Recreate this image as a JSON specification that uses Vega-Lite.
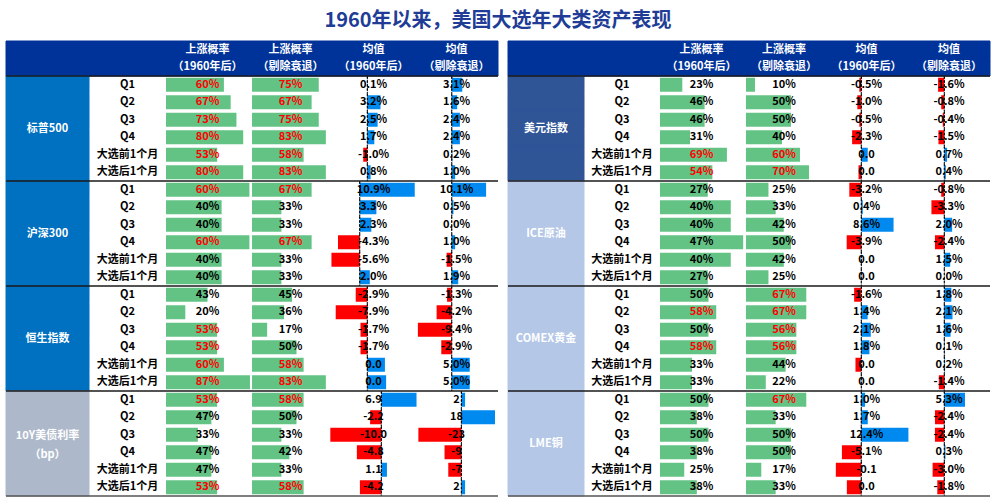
{
"$schema": "https://vega.github.io/schema/vega-lite/v6.json",
"padding": {"left": 5, "right": 5, "top": 10, "bottom": 0},
"title": {"text": "1960年以来，美国大选年大类资产表现", "fontSize": 20, "fontWeight": "bold", "color": "#203C96", "anchor": "middle", "offset": 10, "font": "Noto Sans CJK SC"},
"resolve": {"scale": {"color": "independent", "stroke": "independent"}},
"datasets": {
"L": [
{"i":0,"k":"spx","g":"标普500","r":"Q1","p1":0.60,"p2":0.75,"m1":0.1,"m2":3.1,"t3":"0.1%","t4":"3.1%"},
{"i":1,"k":"spx","g":"标普500","r":"Q2","p1":0.67,"p2":0.67,"m1":3.2,"m2":1.6,"t3":"3.2%","t4":"1.6%"},
{"i":2,"k":"spx","g":"标普500","r":"Q3","p1":0.73,"p2":0.75,"m1":2.5,"m2":2.4,"t3":"2.5%","t4":"2.4%"},
{"i":3,"k":"spx","g":"标普500","r":"Q4","p1":0.80,"p2":0.83,"m1":1.7,"m2":2.4,"t3":"1.7%","t4":"2.4%"},
{"i":4,"k":"spx","g":"标普500","r":"大选前1个月","p1":0.53,"p2":0.58,"m1":-1.0,"m2":0.2,"t3":"-1.0%","t4":"0.2%"},
{"i":5,"k":"spx","g":"标普500","r":"大选后1个月","p1":0.80,"p2":0.83,"m1":0.8,"m2":1.0,"t3":"0.8%","t4":"1.0%"},
{"i":6,"k":"csi","g":"沪深300","r":"Q1","p1":0.60,"p2":0.67,"m1":10.9,"m2":10.1,"t3":"10.9%","t4":"10.1%"},
{"i":7,"k":"csi","g":"沪深300","r":"Q2","p1":0.40,"p2":0.33,"m1":3.3,"m2":0.5,"t3":"3.3%","t4":"0.5%"},
{"i":8,"k":"csi","g":"沪深300","r":"Q3","p1":0.40,"p2":0.33,"m1":2.3,"m2":0.0,"t3":"2.3%","t4":"0.0%"},
{"i":9,"k":"csi","g":"沪深300","r":"Q4","p1":0.60,"p2":0.67,"m1":-4.3,"m2":1.0,"t3":"-4.3%","t4":"1.0%"},
{"i":10,"k":"csi","g":"沪深300","r":"大选前1个月","p1":0.40,"p2":0.33,"m1":-5.6,"m2":-1.5,"t3":"-5.6%","t4":"-1.5%"},
{"i":11,"k":"csi","g":"沪深300","r":"大选后1个月","p1":0.40,"p2":0.33,"m1":2.0,"m2":1.9,"t3":"2.0%","t4":"1.9%"},
{"i":12,"k":"hsi","g":"恒生指数","r":"Q1","p1":0.43,"p2":0.45,"m1":-2.9,"m2":-1.3,"t3":"-2.9%","t4":"-1.3%"},
{"i":13,"k":"hsi","g":"恒生指数","r":"Q2","p1":0.20,"p2":0.36,"m1":-7.9,"m2":-4.2,"t3":"-7.9%","t4":"-4.2%"},
{"i":14,"k":"hsi","g":"恒生指数","r":"Q3","p1":0.53,"p2":0.17,"m1":-1.7,"m2":-9.4,"t3":"-1.7%","t4":"-9.4%"},
{"i":15,"k":"hsi","g":"恒生指数","r":"Q4","p1":0.53,"p2":0.50,"m1":-1.7,"m2":-2.9,"t3":"-1.7%","t4":"-2.9%"},
{"i":16,"k":"hsi","g":"恒生指数","r":"大选前1个月","p1":0.60,"p2":0.58,"m1":4.4,"m2":5.0,"t3":"0.0","t4":"5.0%"},
{"i":17,"k":"hsi","g":"恒生指数","r":"大选后1个月","p1":0.87,"p2":0.83,"m1":4.7,"m2":5.0,"t3":"0.0","t4":"5.0%"},
{"i":18,"k":"ust","g":"10Y美债利率\n（bp）","r":"Q1","p1":0.53,"p2":0.58,"m1":6.9,"m2":2,"t3":"6.9","t4":"2"},
{"i":19,"k":"ust","g":"10Y美债利率\n（bp）","r":"Q2","p1":0.47,"p2":0.50,"m1":-2.2,"m2":18,"t3":"-2.2","t4":"18"},
{"i":20,"k":"ust","g":"10Y美债利率\n（bp）","r":"Q3","p1":0.33,"p2":0.33,"m1":-10.0,"m2":-23,"t3":"-10.0","t4":"-23"},
{"i":21,"k":"ust","g":"10Y美债利率\n（bp）","r":"Q4","p1":0.47,"p2":0.42,"m1":-4.8,"m2":-9,"t3":"-4.8","t4":"-9"},
{"i":22,"k":"ust","g":"10Y美债利率\n（bp）","r":"大选前1个月","p1":0.47,"p2":0.33,"m1":1.1,"m2":-7,"t3":"1.1","t4":"-7"},
{"i":23,"k":"ust","g":"10Y美债利率\n（bp）","r":"大选后1个月","p1":0.53,"p2":0.58,"m1":-4.2,"m2":2,"t3":"-4.2","t4":"2"}
],
"R": [
{"i":0,"k":"dxy","g":"美元指数","r":"Q1","p1":0.23,"p2":0.10,"m1":-0.5,"m2":-1.6,"t3":"-0.5%","t4":"-1.6%"},
{"i":1,"k":"dxy","g":"美元指数","r":"Q2","p1":0.46,"p2":0.50,"m1":-1.0,"m2":-0.8,"t3":"-1.0%","t4":"-0.8%"},
{"i":2,"k":"dxy","g":"美元指数","r":"Q3","p1":0.46,"p2":0.50,"m1":-0.5,"m2":-0.4,"t3":"-0.5%","t4":"-0.4%"},
{"i":3,"k":"dxy","g":"美元指数","r":"Q4","p1":0.31,"p2":0.40,"m1":-2.3,"m2":-1.5,"t3":"-2.3%","t4":"-1.5%"},
{"i":4,"k":"dxy","g":"美元指数","r":"大选前1个月","p1":0.69,"p2":0.60,"m1":1.6,"m2":0.7,"t3":"0.0","t4":"0.7%"},
{"i":5,"k":"dxy","g":"美元指数","r":"大选后1个月","p1":0.54,"p2":0.70,"m1":-0.7,"m2":0.4,"t3":"0.0","t4":"0.4%"},
{"i":6,"k":"oil","g":"ICE原油","r":"Q1","p1":0.27,"p2":0.25,"m1":-3.2,"m2":-0.8,"t3":"-3.2%","t4":"-0.8%"},
{"i":7,"k":"oil","g":"ICE原油","r":"Q2","p1":0.40,"p2":0.33,"m1":0.4,"m2":-3.3,"t3":"0.4%","t4":"-3.3%"},
{"i":8,"k":"oil","g":"ICE原油","r":"Q3","p1":0.40,"p2":0.42,"m1":8.6,"m2":2.0,"t3":"8.6%","t4":"2.0%"},
{"i":9,"k":"oil","g":"ICE原油","r":"Q4","p1":0.47,"p2":0.50,"m1":-3.9,"m2":-2.4,"t3":"-3.9%","t4":"-2.4%"},
{"i":10,"k":"oil","g":"ICE原油","r":"大选前1个月","p1":0.40,"p2":0.42,"m1":0.1,"m2":1.5,"t3":"0.0","t4":"1.5%"},
{"i":11,"k":"oil","g":"ICE原油","r":"大选后1个月","p1":0.27,"p2":0.25,"m1":0.0,"m2":0.0,"t3":"0.0","t4":"0.0%"},
{"i":12,"k":"gold","g":"COMEX黄金","r":"Q1","p1":0.50,"p2":0.67,"m1":-1.6,"m2":1.8,"t3":"-1.6%","t4":"1.8%"},
{"i":13,"k":"gold","g":"COMEX黄金","r":"Q2","p1":0.58,"p2":0.67,"m1":1.4,"m2":2.1,"t3":"1.4%","t4":"2.1%"},
{"i":14,"k":"gold","g":"COMEX黄金","r":"Q3","p1":0.50,"p2":0.56,"m1":2.1,"m2":1.6,"t3":"2.1%","t4":"1.6%"},
{"i":15,"k":"gold","g":"COMEX黄金","r":"Q4","p1":0.58,"p2":0.56,"m1":1.8,"m2":0.1,"t3":"1.8%","t4":"0.1%"},
{"i":16,"k":"gold","g":"COMEX黄金","r":"大选前1个月","p1":0.33,"p2":0.44,"m1":-1.3,"m2":0.2,"t3":"0.0","t4":"0.2%"},
{"i":17,"k":"gold","g":"COMEX黄金","r":"大选后1个月","p1":0.33,"p2":0.22,"m1":0.0,"m2":-1.4,"t3":"0.0","t4":"-1.4%"},
{"i":18,"k":"cu","g":"LME铜","r":"Q1","p1":0.50,"p2":0.67,"m1":1.0,"m2":5.3,"t3":"1.0%","t4":"5.3%"},
{"i":19,"k":"cu","g":"LME铜","r":"Q2","p1":0.38,"p2":0.33,"m1":1.7,"m2":-2.4,"t3":"1.7%","t4":"-2.4%"},
{"i":20,"k":"cu","g":"LME铜","r":"Q3","p1":0.50,"p2":0.50,"m1":12.4,"m2":-2.4,"t3":"12.4%","t4":"-2.4%"},
{"i":21,"k":"cu","g":"LME铜","r":"Q4","p1":0.38,"p2":0.50,"m1":-5.1,"m2":0.3,"t3":"-5.1%","t4":"0.3%"},
{"i":22,"k":"cu","g":"LME铜","r":"大选前1个月","p1":0.25,"p2":0.17,"m1":-6.7,"m2":-3.0,"t3":"-0.1","t4":"-3.0%"},
{"i":23,"k":"cu","g":"LME铜","r":"大选后1个月","p1":0.38,"p2":0.33,"m1":-3.8,"m2":-1.8,"t3":"0.0","t4":"-1.8%"}
]
},
"spacing": 0,
"bounds": "flush",
"hconcat": [
{"width": 83, "height": 455,
 "encoding": {"y": {"field": "i", "type": "ordinal", "scale": {"type": "band", "domain": [-2,-1,0,1,2,3,4,5,6,7,8,9,10,11,12,13,14,15,16,17,18,19,20,21,22,23], "paddingInner": 0, "paddingOuter": 0}, "axis": null}},
 "layer": [
  {"data": {"values": [{"i": -2}, {"i": -1}]}, "mark": {"type": "rect", "color": "#003399", "stroke": "#003399", "strokeWidth": 1}},
  {"data": {"name": "L"}, "mark": {"type": "rect", "strokeWidth": 1},
   "encoding": {"color": {"field": "k", "type": "nominal", "scale": {"domain": ["spx","csi","hsi","ust"], "range": ["#0070C0","#0070C0","#0070C0","#ADB9CA"]}, "legend": null},
                "stroke": {"field": "k", "type": "nominal", "scale": {"domain": ["spx","csi","hsi","ust"], "range": ["#0070C0","#0070C0","#0070C0","#ADB9CA"]}, "legend": null}}},
  {"data": {"name": "L"}, "transform": [{"filter": "datum.r == 'Q3' && datum.k != 'ust'"}], "mark": {"type": "text", "color": "#FFFFFF", "fontSize": 11},
   "encoding": {"y": {"field": "i", "type": "ordinal", "bandPosition": 1}, "text": {"field": "g"}}},
  {"data": {"name": "L"}, "transform": [{"filter": "datum.r == 'Q3' && datum.k == 'ust'"}], "mark": {"type": "text", "color": "#FFFFFF", "fontSize": 11, "lineBreak": "\n", "lineHeight": 19, "dy": -8},
   "encoding": {"y": {"field": "i", "type": "ordinal", "bandPosition": 1}, "text": {"field": "g"}}},
  {"data": {"values": [{"i": 0}, {"i": 6}, {"i": 12}, {"i": 18}]}, "mark": {"type": "rule", "color": "#1a1a1a", "strokeWidth": 1.5}, "encoding": {"y": {"field": "i", "type": "ordinal", "bandPosition": 0}}},
  {"data": {"values": [{"i": 23}]}, "mark": {"type": "rule", "color": "#555555", "strokeWidth": 1.5}, "encoding": {"y": {"field": "i", "type": "ordinal", "bandPosition": 1}}}
 ]},
{"width": 77, "height": 455,
 "encoding": {"y": {"field": "i", "type": "ordinal", "scale": {"type": "band", "domain": [-2,-1,0,1,2,3,4,5,6,7,8,9,10,11,12,13,14,15,16,17,18,19,20,21,22,23], "paddingInner": 0, "paddingOuter": 0}, "axis": null}},
 "layer": [
  {"data": {"values": [{"i": -2}, {"i": -1}]}, "mark": {"type": "rect", "color": "#003399", "stroke": "#003399", "strokeWidth": 1}},
  {"data": {"name": "L"}, "mark": {"type": "text", "color": "#000000"}, "encoding": {"text": {"field": "r"}}},
  {"data": {"values": [{"i": 0}, {"i": 6}, {"i": 12}, {"i": 18}]}, "mark": {"type": "rule", "color": "#1a1a1a", "strokeWidth": 1.5}, "encoding": {"y": {"field": "i", "type": "ordinal", "bandPosition": 0}}},
  {"data": {"values": [{"i": 23}]}, "mark": {"type": "rule", "color": "#555555", "strokeWidth": 1.5}, "encoding": {"y": {"field": "i", "type": "ordinal", "bandPosition": 1}}}
 ]},
{"width": 83, "height": 455, "resolve": {"scale": {"x": "independent"}},
 "encoding": {"y": {"field": "i", "type": "ordinal", "scale": {"type": "band", "domain": [-2,-1,0,1,2,3,4,5,6,7,8,9,10,11,12,13,14,15,16,17,18,19,20,21,22,23], "paddingInner": 0, "paddingOuter": 0}, "axis": null}},
 "layer": [
  {"data": {"values": [{"i": -2, "h": "上涨概率"}, {"i": -1, "h": "（1960年后）"}]}, "layer": [
    {"mark": {"type": "rect", "color": "#003399", "stroke": "#003399", "strokeWidth": 1}},
    {"mark": {"type": "text", "color": "#FFFFFF"}, "encoding": {"text": {"field": "h"}}}]},
  {"data": {"name": "L"}, "transform": [{"filter": "datum.k != 'csi'"}], "mark": {"type": "bar", "height": {"band": 0.8}, "color": "#63C384"},
   "encoding": {"x": {"field": "p1", "type": "quantitative", "scale": {"domain": [0, 0.86], "nice": false}, "axis": null}}},
  {"data": {"name": "L"}, "transform": [{"filter": "datum.k == 'csi'"}], "mark": {"type": "bar", "height": {"band": 0.8}, "color": "#63C384"},
   "encoding": {"x": {"field": "p1", "type": "quantitative", "scale": {"domain": [0, 0.597], "nice": false}, "axis": null}}},
  {"data": {"name": "L"}, "mark": {"type": "text"}, "encoding": {"text": {"field": "p1", "type": "quantitative", "format": ".0%"}, "color": {"condition": {"test": "datum.p1 > 0.5", "value": "#FF0000"}, "value": "#000000"}}},
  {"data": {"values": [{"i": 0}, {"i": 6}, {"i": 12}, {"i": 18}]}, "mark": {"type": "rule", "color": "#1a1a1a", "strokeWidth": 1.5}, "encoding": {"y": {"field": "i", "type": "ordinal", "bandPosition": 0}}},
  {"data": {"values": [{"i": 23}]}, "mark": {"type": "rule", "color": "#555555", "strokeWidth": 1.5}, "encoding": {"y": {"field": "i", "type": "ordinal", "bandPosition": 1}}}
 ]},
{"width": 83, "height": 455, "resolve": {"scale": {"x": "independent"}},
 "encoding": {"y": {"field": "i", "type": "ordinal", "scale": {"type": "band", "domain": [-2,-1,0,1,2,3,4,5,6,7,8,9,10,11,12,13,14,15,16,17,18,19,20,21,22,23], "paddingInner": 0, "paddingOuter": 0}, "axis": null}},
 "layer": [
  {"data": {"values": [{"i": -2, "h": "上涨概率"}, {"i": -1, "h": "（剔除衰退）"}]}, "layer": [
    {"mark": {"type": "rect", "color": "#003399", "stroke": "#003399", "strokeWidth": 1}},
    {"mark": {"type": "text", "color": "#FFFFFF"}, "encoding": {"text": {"field": "h"}}}]},
  {"data": {"name": "L"}, "mark": {"type": "bar", "height": {"band": 0.8}, "color": "#63C384"},
   "encoding": {"x": {"field": "p2", "type": "quantitative", "scale": {"domain": [-0.034, 0.899], "nice": false}, "axis": null}}},
  {"data": {"name": "L"}, "mark": {"type": "text"}, "encoding": {"text": {"field": "p2", "type": "quantitative", "format": ".0%"}, "color": {"condition": {"test": "datum.p2 > 0.5", "value": "#FF0000"}, "value": "#000000"}}},
  {"data": {"values": [{"i": 0}, {"i": 6}, {"i": 12}, {"i": 18}]}, "mark": {"type": "rule", "color": "#1a1a1a", "strokeWidth": 1.5}, "encoding": {"y": {"field": "i", "type": "ordinal", "bandPosition": 0}}},
  {"data": {"values": [{"i": 23}]}, "mark": {"type": "rule", "color": "#555555", "strokeWidth": 1.5}, "encoding": {"y": {"field": "i", "type": "ordinal", "bandPosition": 1}}}
 ]},
{"width": 83, "height": 455, "resolve": {"scale": {"x": "independent"}},
 "encoding": {"y": {"field": "i", "type": "ordinal", "scale": {"type": "band", "domain": [-2,-1,0,1,2,3,4,5,6,7,8,9,10,11,12,13,14,15,16,17,18,19,20,21,22,23], "paddingInner": 0, "paddingOuter": 0}, "axis": null}},
 "layer": [
  {"data": {"values": [{"i": -2, "h": "均值"}, {"i": -1, "h": "（1960年后）"}]}, "layer": [
    {"mark": {"type": "rect", "color": "#003399", "stroke": "#003399", "strokeWidth": 1}},
    {"mark": {"type": "text", "color": "#FFFFFF"}, "encoding": {"text": {"field": "h"}}}]},
  {"data": {"name": "L"}, "transform": [{"filter": "datum.k == 'spx'"}], "layer": [
    {"mark": {"type": "bar", "height": {"band": 0.8}}, "encoding": {"x": {"field": "m1", "type": "quantitative", "scale": {"domain": [-8.6, 11.6], "nice": false}, "axis": null}, "color": {"condition": {"test": "datum.m1 < 0", "value": "#FF0000"}, "value": "#008AEF"}}},
    {"mark": {"type": "text", "color": "#000000"}, "encoding": {"text": {"field": "t3"}}},
    {"mark": {"type": "bar", "fillOpacity": 0, "stroke": "#000000", "strokeDash": [2, 2], "strokeWidth": 1}, "encoding": {"x": {"datum": 0, "type": "quantitative"}, "x2": {"datum": 0}}}]},
  {"data": {"name": "L"}, "transform": [{"filter": "datum.k == 'csi'"}], "layer": [
    {"mark": {"type": "bar", "height": {"band": 0.8}}, "encoding": {"x": {"field": "m1", "type": "quantitative", "scale": {"domain": [-5.49, 10.95], "nice": false}, "axis": null}, "color": {"condition": {"test": "datum.m1 < 0", "value": "#FF0000"}, "value": "#008AEF"}}},
    {"mark": {"type": "text", "color": "#000000"}, "encoding": {"text": {"field": "t3"}}},
    {"mark": {"type": "bar", "fillOpacity": 0, "stroke": "#000000", "strokeDash": [2, 2], "strokeWidth": 1}, "encoding": {"x": {"datum": 0, "type": "quantitative"}, "x2": {"datum": 0}}}]},
  {"data": {"name": "L"}, "transform": [{"filter": "datum.k == 'hsi'"}], "layer": [
    {"mark": {"type": "bar", "height": {"band": 0.8}}, "encoding": {"x": {"field": "m1", "type": "quantitative", "scale": {"domain": [-8.83, 11.92], "nice": false}, "axis": null}, "color": {"condition": {"test": "datum.m1 < 0", "value": "#FF0000"}, "value": "#008AEF"}}},
    {"mark": {"type": "text", "color": "#000000"}, "encoding": {"text": {"field": "t3"}}},
    {"mark": {"type": "bar", "fillOpacity": 0, "stroke": "#000000", "strokeDash": [2, 2], "strokeWidth": 1}, "encoding": {"x": {"datum": 0, "type": "quantitative"}, "x2": {"datum": 0}}}]},
  {"data": {"name": "L"}, "transform": [{"filter": "datum.k == 'ust'"}], "layer": [
    {"mark": {"type": "bar", "height": {"band": 0.8}}, "encoding": {"x": {"field": "m1", "type": "quantitative", "scale": {"domain": [-9.67, 6.6], "nice": false}, "axis": null}, "color": {"condition": {"test": "datum.m1 < 0", "value": "#FF0000"}, "value": "#008AEF"}}},
    {"mark": {"type": "text", "color": "#000000"}, "encoding": {"text": {"field": "t3"}}},
    {"mark": {"type": "bar", "fillOpacity": 0, "stroke": "#000000", "strokeDash": [2, 2], "strokeWidth": 1}, "encoding": {"x": {"datum": 0, "type": "quantitative"}, "x2": {"datum": 0}}}]},
  {"data": {"values": [{"i": 0}, {"i": 6}, {"i": 12}, {"i": 18}]}, "mark": {"type": "rule", "color": "#1a1a1a", "strokeWidth": 1.5}, "encoding": {"y": {"field": "i", "type": "ordinal", "bandPosition": 0}}},
  {"data": {"values": [{"i": 23}]}, "mark": {"type": "rule", "color": "#555555", "strokeWidth": 1.5}, "encoding": {"y": {"field": "i", "type": "ordinal", "bandPosition": 1}}}
 ]},
{"width": 83, "height": 455, "resolve": {"scale": {"x": "independent"}},
 "encoding": {"y": {"field": "i", "type": "ordinal", "scale": {"type": "band", "domain": [-2,-1,0,1,2,3,4,5,6,7,8,9,10,11,12,13,14,15,16,17,18,19,20,21,22,23], "paddingInner": 0, "paddingOuter": 0}, "axis": null}},
 "layer": [
  {"data": {"values": [{"i": -2, "h": "均值"}, {"i": -1, "h": "（剔除衰退）"}]}, "layer": [
    {"mark": {"type": "rect", "color": "#003399", "stroke": "#003399", "strokeWidth": 1}},
    {"mark": {"type": "text", "color": "#FFFFFF"}, "encoding": {"text": {"field": "h"}}}]},
  {"data": {"name": "L"}, "transform": [{"filter": "datum.k == 'spx' || datum.k == 'csi'"}], "layer": [
    {"mark": {"type": "bar", "height": {"band": 0.8}}, "encoding": {"x": {"field": "m2", "type": "quantitative", "scale": {"domain": [-10.8, 13.6], "nice": false}, "axis": null}, "color": {"condition": {"test": "datum.m2 < 0", "value": "#FF0000"}, "value": "#008AEF"}}},
    {"mark": {"type": "text", "color": "#000000"}, "encoding": {"text": {"field": "t4"}}},
    {"mark": {"type": "bar", "fillOpacity": 0, "stroke": "#000000", "strokeDash": [2, 2], "strokeWidth": 1}, "encoding": {"x": {"datum": 0, "type": "quantitative"}, "x2": {"datum": 0}}}]},
  {"data": {"name": "L"}, "transform": [{"filter": "datum.k == 'hsi'"}], "layer": [
    {"mark": {"type": "bar", "height": {"band": 0.8}}, "encoding": {"x": {"field": "m2", "type": "quantitative", "scale": {"domain": [-10.2, 12.85], "nice": false}, "axis": null}, "color": {"condition": {"test": "datum.m2 < 0", "value": "#FF0000"}, "value": "#008AEF"}}},
    {"mark": {"type": "text", "color": "#000000"}, "encoding": {"text": {"field": "t4"}}},
    {"mark": {"type": "bar", "fillOpacity": 0, "stroke": "#000000", "strokeDash": [2, 2], "strokeWidth": 1}, "encoding": {"x": {"datum": 0, "type": "quantitative"}, "x2": {"datum": 0}}}]},
  {"data": {"name": "L"}, "transform": [{"filter": "datum.k == 'ust'"}], "layer": [
    {"mark": {"type": "bar", "height": {"band": 0.8}}, "encoding": {"x": {"field": "m2", "type": "quantitative", "scale": {"domain": [-24.8, 19.6], "nice": false}, "axis": null}, "color": {"condition": {"test": "datum.m2 < 0", "value": "#FF0000"}, "value": "#008AEF"}}},
    {"mark": {"type": "text", "color": "#000000"}, "encoding": {"text": {"field": "t4"}}},
    {"mark": {"type": "bar", "fillOpacity": 0, "stroke": "#000000", "strokeDash": [2, 2], "strokeWidth": 1}, "encoding": {"x": {"datum": 0, "type": "quantitative"}, "x2": {"datum": 0}}}]},
  {"data": {"values": [{"i": 0}, {"i": 6}, {"i": 12}, {"i": 18}]}, "mark": {"type": "rule", "color": "#1a1a1a", "strokeWidth": 1.5}, "encoding": {"y": {"field": "i", "type": "ordinal", "bandPosition": 0}}},
  {"data": {"values": [{"i": 23}]}, "mark": {"type": "rule", "color": "#555555", "strokeWidth": 1.5}, "encoding": {"y": {"field": "i", "type": "ordinal", "bandPosition": 1}}}
 ]},
{"width": 10, "height": 455, "data": {"values": [{"i": 0}]}, "mark": {"type": "text", "text": ""}, "encoding": {}},
{"width": 76, "height": 455,
 "encoding": {"y": {"field": "i", "type": "ordinal", "scale": {"type": "band", "domain": [-2,-1,0,1,2,3,4,5,6,7,8,9,10,11,12,13,14,15,16,17,18,19,20,21,22,23], "paddingInner": 0, "paddingOuter": 0}, "axis": null}},
 "layer": [
  {"data": {"values": [{"i": -2}, {"i": -1}]}, "mark": {"type": "rect", "color": "#003399", "stroke": "#003399", "strokeWidth": 1}},
  {"data": {"name": "R"}, "mark": {"type": "rect", "strokeWidth": 1},
   "encoding": {"color": {"field": "k", "type": "nominal", "scale": {"domain": ["dxy","oil","gold","cu"], "range": ["#2F5597","#B4C7E7","#B4C7E7","#B4C7E7"]}, "legend": null},
                "stroke": {"field": "k", "type": "nominal", "scale": {"domain": ["dxy","oil","gold","cu"], "range": ["#2F5597","#B4C7E7","#B4C7E7","#B4C7E7"]}, "legend": null}}},
  {"data": {"name": "R"}, "transform": [{"filter": "datum.r == 'Q3'"}], "mark": {"type": "text", "color": "#FFFFFF", "fontSize": 11},
   "encoding": {"y": {"field": "i", "type": "ordinal", "bandPosition": 1}, "text": {"field": "g"}}},
  {"data": {"values": [{"i": 0}, {"i": 6}, {"i": 12}, {"i": 18}]}, "mark": {"type": "rule", "color": "#1a1a1a", "strokeWidth": 1.5}, "encoding": {"y": {"field": "i", "type": "ordinal", "bandPosition": 0}}},
  {"data": {"values": [{"i": 23}]}, "mark": {"type": "rule", "color": "#555555", "strokeWidth": 1.5}, "encoding": {"y": {"field": "i", "type": "ordinal", "bandPosition": 1}}}
 ]},
{"width": 76, "height": 455,
 "encoding": {"y": {"field": "i", "type": "ordinal", "scale": {"type": "band", "domain": [-2,-1,0,1,2,3,4,5,6,7,8,9,10,11,12,13,14,15,16,17,18,19,20,21,22,23], "paddingInner": 0, "paddingOuter": 0}, "axis": null}},
 "layer": [
  {"data": {"values": [{"i": -2}, {"i": -1}]}, "mark": {"type": "rect", "color": "#003399", "stroke": "#003399", "strokeWidth": 1}},
  {"data": {"name": "R"}, "mark": {"type": "text", "color": "#000000"}, "encoding": {"text": {"field": "r"}}},
  {"data": {"values": [{"i": 0}, {"i": 6}, {"i": 12}, {"i": 18}]}, "mark": {"type": "rule", "color": "#1a1a1a", "strokeWidth": 1.5}, "encoding": {"y": {"field": "i", "type": "ordinal", "bandPosition": 0}}},
  {"data": {"values": [{"i": 23}]}, "mark": {"type": "rule", "color": "#555555", "strokeWidth": 1.5}, "encoding": {"y": {"field": "i", "type": "ordinal", "bandPosition": 1}}}
 ]},
{"width": 83, "height": 455, "resolve": {"scale": {"x": "independent"}},
 "encoding": {"y": {"field": "i", "type": "ordinal", "scale": {"type": "band", "domain": [-2,-1,0,1,2,3,4,5,6,7,8,9,10,11,12,13,14,15,16,17,18,19,20,21,22,23], "paddingInner": 0, "paddingOuter": 0}, "axis": null}},
 "layer": [
  {"data": {"values": [{"i": -2, "h": "上涨概率"}, {"i": -1, "h": "（1960年后）"}]}, "layer": [
    {"mark": {"type": "rect", "color": "#003399", "stroke": "#003399", "strokeWidth": 1}},
    {"mark": {"type": "text", "color": "#FFFFFF"}, "encoding": {"text": {"field": "h"}}}]},
  {"data": {"name": "R"}, "transform": [{"filter": "datum.k != 'oil'"}], "mark": {"type": "bar", "height": {"band": 0.8}, "color": "#63C384"},
   "encoding": {"x": {"field": "p1", "type": "quantitative", "scale": {"domain": [0, 0.856], "nice": false}, "axis": null}}},
  {"data": {"name": "R"}, "transform": [{"filter": "datum.k == 'oil'"}], "mark": {"type": "bar", "height": {"band": 0.8}, "color": "#63C384"},
   "encoding": {"x": {"field": "p1", "type": "quantitative", "scale": {"domain": [0, 0.469], "nice": false}, "axis": null}}},
  {"data": {"name": "R"}, "mark": {"type": "text"}, "encoding": {"text": {"field": "p1", "type": "quantitative", "format": ".0%"}, "color": {"condition": {"test": "datum.p1 > 0.5", "value": "#FF0000"}, "value": "#000000"}}},
  {"data": {"values": [{"i": 0}, {"i": 6}, {"i": 12}, {"i": 18}]}, "mark": {"type": "rule", "color": "#1a1a1a", "strokeWidth": 1.5}, "encoding": {"y": {"field": "i", "type": "ordinal", "bandPosition": 0}}},
  {"data": {"values": [{"i": 23}]}, "mark": {"type": "rule", "color": "#555555", "strokeWidth": 1.5}, "encoding": {"y": {"field": "i", "type": "ordinal", "bandPosition": 1}}}
 ]},
{"width": 82, "height": 455, "resolve": {"scale": {"x": "independent"}},
 "encoding": {"y": {"field": "i", "type": "ordinal", "scale": {"type": "band", "domain": [-2,-1,0,1,2,3,4,5,6,7,8,9,10,11,12,13,14,15,16,17,18,19,20,21,22,23], "paddingInner": 0, "paddingOuter": 0}, "axis": null}},
 "layer": [
  {"data": {"values": [{"i": -2, "h": "上涨概率"}, {"i": -1, "h": "（剔除衰退）"}]}, "layer": [
    {"mark": {"type": "rect", "color": "#003399", "stroke": "#003399", "strokeWidth": 1}},
    {"mark": {"type": "text", "color": "#FFFFFF"}, "encoding": {"text": {"field": "h"}}}]},
  {"data": {"name": "R"}, "mark": {"type": "bar", "height": {"band": 0.8}, "color": "#63C384"},
   "encoding": {"x": {"field": "p2", "type": "quantitative", "scale": {"domain": [-0.033, 0.878], "nice": false}, "axis": null}}},
  {"data": {"name": "R"}, "mark": {"type": "text"}, "encoding": {"text": {"field": "p2", "type": "quantitative", "format": ".0%"}, "color": {"condition": {"test": "datum.p2 > 0.5", "value": "#FF0000"}, "value": "#000000"}}},
  {"data": {"values": [{"i": 0}, {"i": 6}, {"i": 12}, {"i": 18}]}, "mark": {"type": "rule", "color": "#1a1a1a", "strokeWidth": 1.5}, "encoding": {"y": {"field": "i", "type": "ordinal", "bandPosition": 0}}},
  {"data": {"values": [{"i": 23}]}, "mark": {"type": "rule", "color": "#555555", "strokeWidth": 1.5}, "encoding": {"y": {"field": "i", "type": "ordinal", "bandPosition": 1}}}
 ]},
{"width": 83, "height": 455, "resolve": {"scale": {"x": "independent"}},
 "encoding": {"y": {"field": "i", "type": "ordinal", "scale": {"type": "band", "domain": [-2,-1,0,1,2,3,4,5,6,7,8,9,10,11,12,13,14,15,16,17,18,19,20,21,22,23], "paddingInner": 0, "paddingOuter": 0}, "axis": null}},
 "layer": [
  {"data": {"values": [{"i": -2, "h": "均值"}, {"i": -1, "h": "（1960年后）"}]}, "layer": [
    {"mark": {"type": "rect", "color": "#003399", "stroke": "#003399", "strokeWidth": 1}},
    {"mark": {"type": "text", "color": "#FFFFFF"}, "encoding": {"text": {"field": "h"}}}]},
  {"data": {"name": "R"}, "transform": [{"filter": "datum.k == 'dxy'"}], "layer": [
    {"mark": {"type": "bar", "height": {"band": 0.8}}, "encoding": {"x": {"field": "m1", "type": "quantitative", "scale": {"domain": [-9.08, 11.67], "nice": false}, "axis": null}, "color": {"condition": {"test": "datum.m1 < 0", "value": "#FF0000"}, "value": "#008AEF"}}},
    {"mark": {"type": "text", "color": "#000000"}, "encoding": {"text": {"field": "t3"}}},
    {"mark": {"type": "bar", "fillOpacity": 0, "stroke": "#000000", "strokeDash": [2, 2], "strokeWidth": 1}, "encoding": {"x": {"datum": 0, "type": "quantitative"}, "x2": {"datum": 0}}}]},
  {"data": {"name": "R"}, "transform": [{"filter": "datum.k == 'oil'"}], "layer": [
    {"mark": {"type": "bar", "height": {"band": 0.8}}, "encoding": {"x": {"field": "m1", "type": "quantitative", "scale": {"domain": [-9.68, 12.45], "nice": false}, "axis": null}, "color": {"condition": {"test": "datum.m1 < 0", "value": "#FF0000"}, "value": "#008AEF"}}},
    {"mark": {"type": "text", "color": "#000000"}, "encoding": {"text": {"field": "t3"}}},
    {"mark": {"type": "bar", "fillOpacity": 0, "stroke": "#000000", "strokeDash": [2, 2], "strokeWidth": 1}, "encoding": {"x": {"datum": 0, "type": "quantitative"}, "x2": {"datum": 0}}}]},
  {"data": {"name": "R"}, "transform": [{"filter": "datum.k == 'gold'"}], "layer": [
    {"mark": {"type": "bar", "height": {"band": 0.8}}, "encoding": {"x": {"field": "m1", "type": "quantitative", "scale": {"domain": [-8.07, 10.37], "nice": false}, "axis": null}, "color": {"condition": {"test": "datum.m1 < 0", "value": "#FF0000"}, "value": "#008AEF"}}},
    {"mark": {"type": "text", "color": "#000000"}, "encoding": {"text": {"field": "t3"}}},
    {"mark": {"type": "bar", "fillOpacity": 0, "stroke": "#000000", "strokeDash": [2, 2], "strokeWidth": 1}, "encoding": {"x": {"datum": 0, "type": "quantitative"}, "x2": {"datum": 0}}}]},
  {"data": {"name": "R"}, "transform": [{"filter": "datum.k == 'cu'"}], "layer": [
    {"mark": {"type": "bar", "height": {"band": 0.8}}, "encoding": {"x": {"field": "m1", "type": "quantitative", "scale": {"domain": [-9.55, 12.29], "nice": false}, "axis": null}, "color": {"condition": {"test": "datum.m1 < 0", "value": "#FF0000"}, "value": "#008AEF"}}},
    {"mark": {"type": "text", "color": "#000000"}, "encoding": {"text": {"field": "t3"}}},
    {"mark": {"type": "bar", "fillOpacity": 0, "stroke": "#000000", "strokeDash": [2, 2], "strokeWidth": 1}, "encoding": {"x": {"datum": 0, "type": "quantitative"}, "x2": {"datum": 0}}}]},
  {"data": {"values": [{"i": 0}, {"i": 6}, {"i": 12}, {"i": 18}]}, "mark": {"type": "rule", "color": "#1a1a1a", "strokeWidth": 1.5}, "encoding": {"y": {"field": "i", "type": "ordinal", "bandPosition": 0}}},
  {"data": {"values": [{"i": 23}]}, "mark": {"type": "rule", "color": "#555555", "strokeWidth": 1.5}, "encoding": {"y": {"field": "i", "type": "ordinal", "bandPosition": 1}}}
 ]},
{"width": 82, "height": 455, "resolve": {"scale": {"x": "independent"}},
 "encoding": {"y": {"field": "i", "type": "ordinal", "scale": {"type": "band", "domain": [-2,-1,0,1,2,3,4,5,6,7,8,9,10,11,12,13,14,15,16,17,18,19,20,21,22,23], "paddingInner": 0, "paddingOuter": 0}, "axis": null}},
 "layer": [
  {"data": {"values": [{"i": -2, "h": "均值"}, {"i": -1, "h": "（剔除衰退）"}]}, "layer": [
    {"mark": {"type": "rect", "color": "#003399", "stroke": "#003399", "strokeWidth": 1}},
    {"mark": {"type": "text", "color": "#FFFFFF"}, "encoding": {"text": {"field": "h"}}}]},
  {"data": {"name": "R"}, "layer": [
    {"mark": {"type": "bar", "height": {"band": 0.8}}, "encoding": {"x": {"field": "m2", "type": "quantitative", "scale": {"domain": [-9.3, 11.7], "nice": false}, "axis": null}, "color": {"condition": {"test": "datum.m2 < 0", "value": "#FF0000"}, "value": "#008AEF"}}},
    {"mark": {"type": "text", "color": "#000000"}, "encoding": {"text": {"field": "t4"}}},
    {"mark": {"type": "bar", "fillOpacity": 0, "stroke": "#000000", "strokeDash": [2, 2], "strokeWidth": 1}, "encoding": {"x": {"datum": 0, "type": "quantitative"}, "x2": {"datum": 0}}}]},
  {"data": {"values": [{"i": 0}, {"i": 6}, {"i": 12}, {"i": 18}]}, "mark": {"type": "rule", "color": "#1a1a1a", "strokeWidth": 1.5}, "encoding": {"y": {"field": "i", "type": "ordinal", "bandPosition": 0}}},
  {"data": {"values": [{"i": 23}]}, "mark": {"type": "rule", "color": "#555555", "strokeWidth": 1.5}, "encoding": {"y": {"field": "i", "type": "ordinal", "bandPosition": 1}}}
 ]}
],
"config": {"view": {"stroke": null}, "font": "Noto Sans CJK SC", "text": {"font": "Noto Sans CJK SC", "fontSize": 11, "fontWeight": "bold"}}
}
